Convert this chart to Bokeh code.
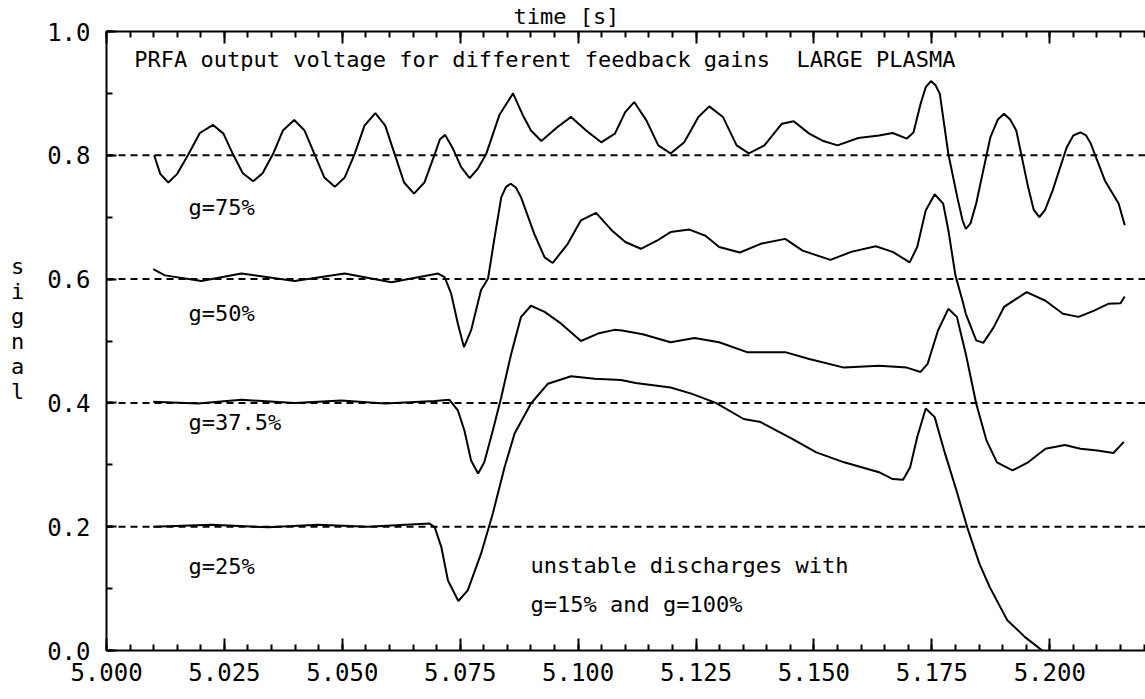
from bokeh.plotting import figure
from bokeh.models import Range1d, LinearAxis, SingleIntervalTicker, Span, Label, PrintfTickFormatter
from bokeh.embed import file_html
from bokeh.resources import INLINE

# ---- data ----
t75 = [5.0101, 5.0114, 5.0131, 5.0150, 5.0174, 5.0198, 5.0226, 5.0248, 5.0268, 5.0289, 5.0311, 5.0331,
       5.0353, 5.0374, 5.0398, 5.0420, 5.0441, 5.0462, 5.0484, 5.0505, 5.0526, 5.0547, 5.0570, 5.0591,
       5.0611, 5.0631, 5.0652, 5.0674, 5.0696, 5.0707, 5.0718, 5.0735, 5.0752, 5.0770, 5.0787, 5.0805,
       5.0833, 5.0862, 5.0882, 5.0900, 5.0922, 5.0955, 5.0985, 5.1017, 5.1049, 5.1078, 5.1100, 5.1119,
       5.1145, 5.1170, 5.1196, 5.1225, 5.1255, 5.1278, 5.1307, 5.1336, 5.1362, 5.1395, 5.1432, 5.1457,
       5.1490, 5.1520, 5.1550, 5.1594, 5.1638, 5.1667, 5.1697, 5.1711, 5.1726, 5.1737, 5.1748, 5.1758,
       5.1767, 5.1785, 5.1804, 5.1815, 5.1822, 5.1832, 5.1844, 5.1874, 5.1890, 5.1903, 5.1916, 5.1929,
       5.1954, 5.1966, 5.1978, 5.1990, 5.2006, 5.2036, 5.2050, 5.2065, 5.2077, 5.2087, 5.2117, 5.2146,
       5.2159]
v75 = [0.800, 0.770, 0.756, 0.770, 0.802, 0.836, 0.849, 0.835, 0.802, 0.771, 0.758, 0.771,
       0.802, 0.840, 0.857, 0.840, 0.802, 0.764, 0.749, 0.764, 0.802, 0.848, 0.868, 0.848,
       0.802, 0.756, 0.738, 0.756, 0.802, 0.826, 0.833, 0.810, 0.781, 0.763, 0.778, 0.802,
       0.865, 0.900, 0.866, 0.840, 0.823, 0.845, 0.862, 0.840, 0.821, 0.835, 0.870, 0.886,
       0.856, 0.816, 0.803, 0.821, 0.862, 0.879, 0.862, 0.816, 0.803, 0.816, 0.851, 0.855,
       0.835, 0.823, 0.816, 0.828, 0.832, 0.836, 0.827, 0.837, 0.883, 0.910, 0.920, 0.913,
       0.899, 0.802, 0.732, 0.695, 0.681, 0.690, 0.722, 0.829, 0.858, 0.867, 0.858, 0.840,
       0.749, 0.712, 0.700, 0.712, 0.743, 0.813, 0.832, 0.837, 0.832, 0.819, 0.759, 0.722,
       0.687]

t50 = [5.0099, 5.0124, 5.0201, 5.0286, 5.0399, 5.0505, 5.0604, 5.0703, 5.0717, 5.0731, 5.0745, 5.0758,
       5.0773, 5.0794, 5.0809, 5.0823, 5.0837, 5.0847, 5.0857, 5.0868, 5.0879, 5.0907, 5.0929, 5.0946,
       5.0978, 5.1006, 5.1038, 5.1071, 5.1100, 5.1133, 5.1167, 5.1196, 5.1236, 5.1270, 5.1299, 5.1343,
       5.1387, 5.1439, 5.1476, 5.1535, 5.1579, 5.1631, 5.1667, 5.1703, 5.1719, 5.1737, 5.1756, 5.1774,
       5.1785, 5.1800, 5.1815, 5.1822, 5.1844, 5.1859, 5.1881, 5.1903, 5.1951, 5.1991, 5.2028, 5.2061,
       5.2094, 5.2124, 5.2150, 5.2159]
v50 = [0.616, 0.606, 0.597, 0.609, 0.597, 0.609, 0.595, 0.609, 0.603, 0.576, 0.528, 0.490,
       0.517, 0.582, 0.601, 0.668, 0.732, 0.749, 0.754, 0.748, 0.732, 0.673, 0.635, 0.626,
       0.657, 0.695, 0.707, 0.679, 0.660, 0.649, 0.662, 0.676, 0.680, 0.670, 0.652, 0.643,
       0.657, 0.665, 0.646, 0.631, 0.644, 0.653, 0.644, 0.627, 0.652, 0.711, 0.737, 0.722,
       0.679, 0.606, 0.565, 0.544, 0.501, 0.497, 0.522, 0.555, 0.579, 0.565, 0.544, 0.539,
       0.549, 0.560, 0.561, 0.572]

t375 = [5.0099, 5.0194, 5.0286, 5.0399, 5.0498, 5.0590, 5.0696, 5.0727, 5.0745, 5.0759, 5.0773, 5.0788,
        5.0801, 5.0819, 5.0837, 5.0858, 5.0879, 5.0900, 5.0929, 5.0964, 5.1006, 5.1042, 5.1077, 5.1093,
        5.1137, 5.1196, 5.1247, 5.1299, 5.1358, 5.1439, 5.1490, 5.1564, 5.1638, 5.1697, 5.1726, 5.1741,
        5.1763, 5.1785, 5.1803, 5.1822, 5.1844, 5.1866, 5.1888, 5.1921, 5.1954, 5.1991, 5.2032, 5.2065,
        5.2101, 5.2135, 5.2157]
v375 = [0.402, 0.399, 0.405, 0.400, 0.404, 0.399, 0.403, 0.405, 0.388, 0.355, 0.307, 0.286,
        0.304, 0.355, 0.409, 0.479, 0.539, 0.557, 0.547, 0.528, 0.500, 0.512, 0.518, 0.517,
        0.511, 0.498, 0.505, 0.498, 0.482, 0.482, 0.471, 0.457, 0.460, 0.457, 0.450, 0.463,
        0.517, 0.552, 0.539, 0.479, 0.399, 0.339, 0.304, 0.291, 0.304, 0.326, 0.332, 0.326,
        0.323, 0.319, 0.337]

t25 = [5.0099, 5.0222, 5.0343, 5.0449, 5.0554, 5.0685, 5.0696, 5.0710, 5.0724, 5.0746, 5.0766, 5.0794,
       5.0819, 5.0844, 5.0865, 5.0900, 5.0936, 5.0985, 5.1035, 5.1091, 5.1122, 5.1196, 5.1240, 5.1292,
       5.1351, 5.1387, 5.1454, 5.1505, 5.1564, 5.1638, 5.1667, 5.1689, 5.1704, 5.1719, 5.1737, 5.1756,
       5.1778, 5.1800, 5.1825, 5.1851, 5.1873, 5.1910, 5.1947, 5.1984]
v25 = [0.200, 0.203, 0.199, 0.203, 0.200, 0.205, 0.199, 0.167, 0.113, 0.080, 0.097, 0.156,
       0.221, 0.296, 0.350, 0.399, 0.431, 0.443, 0.439, 0.437, 0.432, 0.425, 0.415, 0.400,
       0.374, 0.369, 0.342, 0.320, 0.304, 0.288, 0.277, 0.276, 0.296, 0.345, 0.391, 0.377,
       0.318, 0.264, 0.199, 0.140, 0.102, 0.049, 0.022, 0.000]

baselines = [0.2, 0.4, 0.6, 0.8]

gain_labels = ["g=75%", "g=50%", "g=37.5%", "g=25%"]
gain_label_y = [0.716, 0.544, 0.369, 0.136]

title_text = "PRFA output voltage for different feedback gains\u00a0\u00a0LARGE PLASMA"
note_lines = ["unstable discharges with", "g=15% and g=100%"]
x_title = "time [s]"
y_title = "signal"

# ---- figure ----
MONO = "DejaVu Sans Mono"
p = figure(width=1145, height=699, x_range=Range1d(5.0, 5.2203), y_range=Range1d(0.0, 1.0),
           output_backend="svg", toolbar_location=None,
           x_axis_location=None, y_axis_location=None,
           min_border_left=106, min_border_right=0, min_border_top=31, min_border_bottom=49)
p.xgrid.visible = False
p.ygrid.visible = False
p.outline_line_color = None
p.background_fill_color = "white"
p.border_fill_color = "white"


def style_axis(ax, tick_in, minor_in):
    ax.axis_line_color = "black"
    ax.axis_line_width = 2
    ax.major_tick_line_color = "black"
    ax.major_tick_line_width = 2
    ax.minor_tick_line_color = "black"
    ax.minor_tick_line_width = 2
    ax.major_tick_in = tick_in
    ax.major_tick_out = 0
    ax.minor_tick_in = minor_in
    ax.minor_tick_out = 0
    ax.major_label_text_font = MONO
    ax.major_label_text_font_size = "24px"
    ax.major_label_text_color = "black"
    ax.axis_label_text_font = MONO
    ax.axis_label_text_font_size = "22px"
    ax.axis_label_text_font_style = "normal"
    ax.axis_label_text_color = "black"


xb = LinearAxis(ticker=SingleIntervalTicker(interval=0.025, num_minor_ticks=5),
                formatter=PrintfTickFormatter(format="%.3f"))
style_axis(xb, 12, 6)
xb.major_label_standoff = 12
p.add_layout(xb, "below")

# top axis: line and ticks only
xt = LinearAxis(ticker=SingleIntervalTicker(interval=0.025, num_minor_ticks=5),
                formatter=PrintfTickFormatter(format="%.3f"))
style_axis(xt, 12, 6)
xt.major_label_text_font_size = "0px"
xt.major_label_text_alpha = 0
xt.major_label_standoff = 0
p.add_layout(xt, "above")

# top title carried by an invisible axis; trailing no-break spaces move it left of centre
xlab = LinearAxis(ticker=SingleIntervalTicker(interval=0.025, num_minor_ticks=0))
style_axis(xlab, 0, 0)
xlab.axis_line_color = None
xlab.major_tick_line_color = None
xlab.minor_tick_line_color = None
xlab.major_label_text_font_size = "0px"
xlab.major_label_text_alpha = 0
xlab.major_label_standoff = 0
xlab.axis_label = x_title + "\u00a0" * 9
xlab.axis_label_standoff = 3
p.add_layout(xlab, "above")

yl = LinearAxis(ticker=SingleIntervalTicker(interval=0.2, num_minor_ticks=2),
                formatter=PrintfTickFormatter(format="%.1f"))
style_axis(yl, 10, 6)
yl.major_label_standoff = 16
yl.axis_label = "\n".join(y_title) + "\n\u00a0"
yl.axis_label_orientation = "horizontal"
yl.axis_label_text_line_height = 1.0
yl.axis_label_standoff = 20
p.add_layout(yl, "left")

for b in baselines:
    p.add_layout(Span(location=b, dimension="width", line_color="black",
                      line_width=2, line_dash="7 5"))

for t, v in [(t75, v75), (t50, v50), (t375, v375), (t25, v25)]:
    p.line(t, v, line_color="black", line_width=2)

TXT = "22px"
p.add_layout(Label(x=5.0059, y=0.954, text=title_text, text_font=MONO, text_font_size=TXT,
                   text_baseline="middle", text_color="black"))
for lab, yy in zip(gain_labels, gain_label_y):
    p.add_layout(Label(x=5.0174, y=yy, text=lab, text_font=MONO, text_font_size=TXT,
                       text_baseline="middle", text_color="black"))
p.add_layout(Label(x=5.0899, y=0.137, text=note_lines[0], text_font=MONO, text_font_size=TXT,
                   text_baseline="middle", text_color="black"))
p.add_layout(Label(x=5.0899, y=0.075, text=note_lines[1], text_font=MONO, text_font_size=TXT,
                   text_baseline="middle", text_color="black"))

open("out.html", "w").write(file_html(p, INLINE))
